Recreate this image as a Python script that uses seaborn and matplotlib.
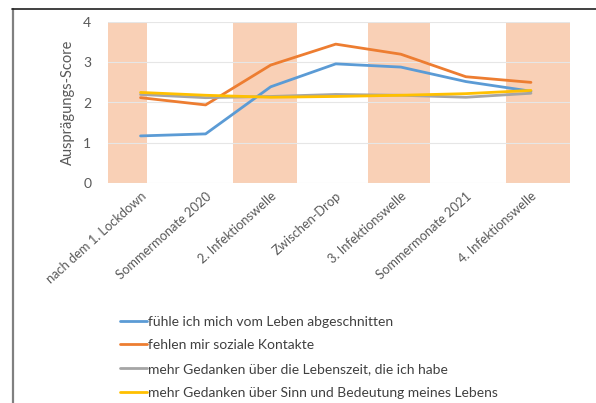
import pandas as pd
import matplotlib.pyplot as plt
from matplotlib.lines import Line2D
import seaborn as sns

sns.set_style('white')
plt.rcParams['font.family'] = ['Lato', 'DejaVu Sans']

phases = ['nach dem 1. Lockdown', 'Sommermonate 2020', '2. Infektionswelle',
          'Zwischen-Drop', '3. Infektionswelle', 'Sommermonate 2021',
          '4. Infektionswelle']
abgeschnitten = [1.17, 1.22, 2.39, 2.96, 2.88, 2.52, 2.28]
kontakte = [2.12, 1.94, 2.93, 3.45, 3.2, 2.64, 2.5]
lebenszeit = [2.2, 2.12, 2.15, 2.2, 2.18, 2.13, 2.23]
sinn = [2.25, 2.18, 2.13, 2.15, 2.18, 2.22, 2.3]
series_names = ['fühle ich mich vom Leben abgeschnitten',
                'fehlen mir soziale Kontakte',
                'mehr Gedanken über die Lebenszeit, die ich habe',
                'mehr Gedanken über Sinn und Bedeutung meines Lebens']
colors = ['#5B9BD5', '#ED7D31', '#A5A5A5', '#FFC000']
# infection waves (shaded bands, category units)
waves = [(-0.5, 0.1), (1.42, 2.41), (3.49, 4.45), (5.61, 6.6)]

rows = []
for name, vals in zip(series_names, [abgeschnitten, kontakte, lebenszeit, sinn]):
    for i, v in enumerate(vals):
        rows.append((name, i, v))
df = pd.DataFrame(rows, columns=['serie', 'phase', 'score'])

fig = plt.figure(figsize=(5.96, 4.03), dpi=100)
ax = fig.add_axes([108 / 596, 1 - 183 / 403, (570 - 108) / 596, 161 / 403])

for a, b in waves:
    ax.axvspan(a, b, ymin=0, ymax=1, color='#F9D0B6', lw=0, zorder=0)

sns.lineplot(data=df, x='phase', y='score', hue='serie', hue_order=series_names,
             palette=colors, lw=2, ax=ax, legend=False, zorder=3)

ax.set_xlim(-0.5, 6.6)
ax.set_ylim(0, 4)
ax.set_yticks([0, 1, 2, 3, 4])
ax.set_xticks(range(len(phases)))
ax.set_xticklabels(phases, rotation=42, ha='right', rotation_mode='anchor',
                   fontsize=9.3, color='#595959')
ax.tick_params(axis='y', labelsize=10, labelcolor='#595959', length=0, pad=12)
ax.tick_params(axis='x', length=0, pad=5)
ax.grid(axis='y', color='#E6E6E6', lw=0.8)
ax.set_axisbelow(True)
ax.set_xlabel('')
ax.set_ylabel('Ausprägungs-Score', fontsize=10.5, color='#595959', labelpad=6)
sns.despine(ax=ax, left=True, bottom=True)

handles = [Line2D([], [], color=c, lw=2) for c in colors]
fig.legend(handles, series_names, loc='upper left', bbox_to_anchor=(114 / 596, 1 - 310 / 403),
           frameon=False, fontsize=10, handlelength=2.0, handletextpad=0.05,
           labelspacing=0.84, labelcolor='#404040', borderaxespad=0)

# outer frame (top and left edge)
fig.add_artist(Line2D([12.5 / 596, 12.5 / 596], [0, 1 - 9 / 403], color='#808080', lw=1.6))
fig.add_artist(Line2D([12 / 596, 1], [1 - 9 / 403, 1 - 9 / 403], color='#202020', lw=1.2))

fig.savefig('out.png', dpi=100)
